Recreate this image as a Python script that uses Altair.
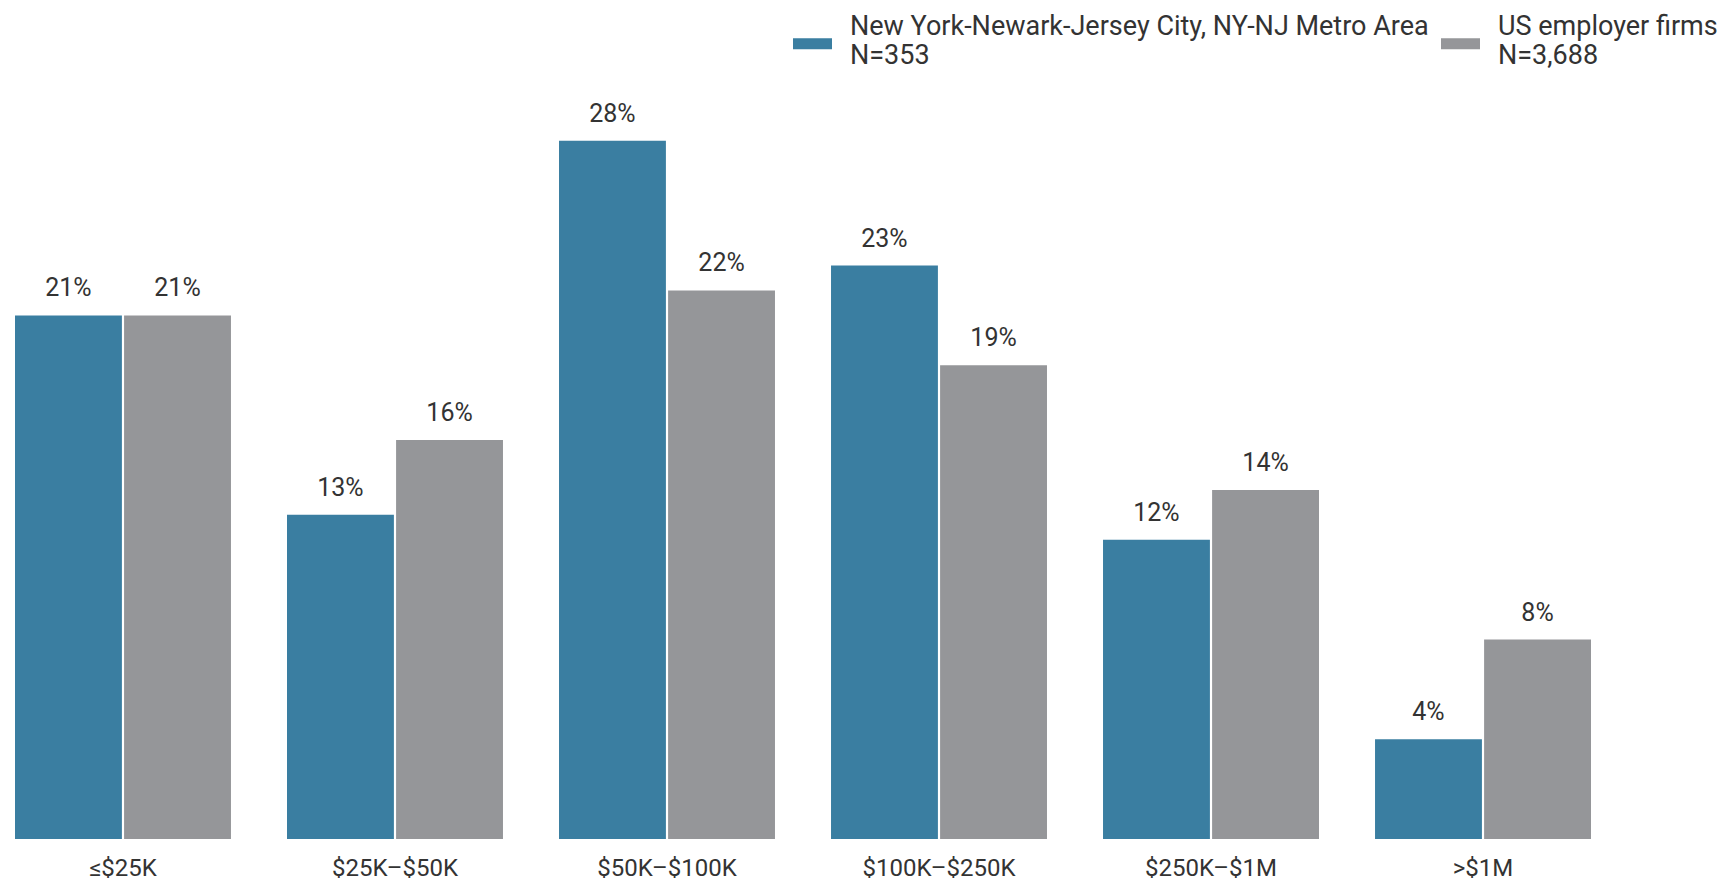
import altair as alt
import pandas as pd

categories = ["≤$25K", "$25K–$50K", "$50K–$100K", "$100K–$250K", "$250K–$1M", ">$1M"]
series_names = ["New York-Newark-Jersey City, NY-NJ Metro Area\nN=353", "US employer firms\nN=3,688"]
ny_values = [21, 13, 28, 23, 12, 4]
us_values = [21, 16, 22, 19, 14, 8]
colors = ["#3a7ea1", "#959699"]

rows = []
for c, v in zip(categories, ny_values):
    rows.append({"cat": c, "series": series_names[0], "value": v})
for c, v in zip(categories, us_values):
    rows.append({"cat": c, "series": series_names[1], "value": v})
df = pd.DataFrame(rows)

FONT = "Roboto"
TXT = "#333333"

base = alt.Chart(df).encode(
    x=alt.X("cat:N", sort=categories,
            scale=alt.Scale(paddingInner=0.206, paddingOuter=0),
            axis=alt.Axis(title=None, domain=False, ticks=False, labelAngle=0,
                          labelFont=FONT, labelFontSize=24, labelColor=TXT,
                          labelPadding=17, grid=False)),
    xOffset=alt.XOffset("series:N", sort=series_names,
                        scale=alt.Scale(paddingInner=0.02, paddingOuter=0)),
    y=alt.Y("value:Q", scale=alt.Scale(domain=[0, 30], nice=False),
            axis=None),
)

bars = base.mark_bar().encode(
    color=alt.Color("series:N", sort=series_names,
                    scale=alt.Scale(domain=series_names, range=colors),
                    legend=alt.Legend(
                        title=None, orient="none", direction="horizontal",
                        legendX=778, legendY=-84, padding=0,
                        labelExpr="split(datum.label, '\\n')",
                        labelFont=FONT, labelFontSize=27, labelColor=TXT,
                        labelLimit=1000, labelOffset=18, columnPadding=12,
                        symbolType="M-1,0.59H1V1.15H-1Z", symbolSize=1521,
                        symbolStrokeWidth=0, symbolOpacity=1)),
)

labels = base.mark_text(font=FONT, fontSize=25, color=TXT, baseline="alphabetic", dy=-19).encode(
    detail="series:N",
).transform_calculate(lbl="datum.value + '%'").encode(text="lbl:N")

chart = alt.layer(bars, labels).properties(
    width=1576, height=748,
    autosize=alt.AutoSizeParams(type="none"),
    padding={"left": 7, "top": 83, "right": 128, "bottom": 42},
).configure_view(stroke=None)

chart.save("out.html", embed_options={"renderer": "svg", "actions": False})
